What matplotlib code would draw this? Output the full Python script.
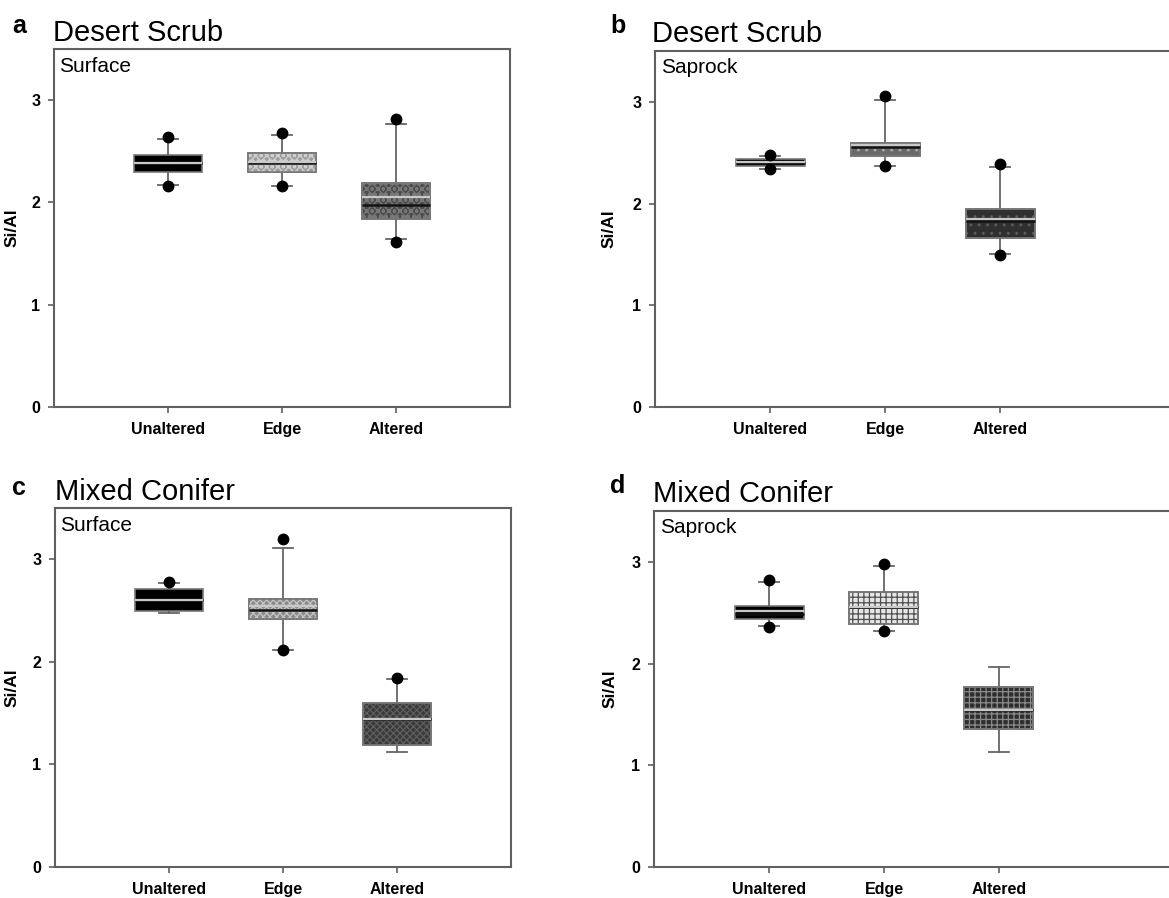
import matplotlib
matplotlib.use("Agg")
import matplotlib.pyplot as plt

plt.rcParams['font.family'] = ['Liberation Sans', 'DejaVu Sans']
plt.rcParams['hatch.linewidth'] = 0.9

W, H = 1169, 898

categories = ["Unaltered", "Edge", "Altered"]

# Panel a: Desert Scrub, Surface
a_q1 = [2.30, 2.30, 1.84]
a_q3 = [2.46, 2.48, 2.19]
a_med = [2.39, 2.39, 1.97]
a_mean = [2.39, 2.40, 2.05]
a_wlo = [2.17, 2.16, 1.64]
a_whi = [2.62, 2.66, 2.77]
a_fliers = [[2.16, 2.64], [2.16, 2.68], [1.61, 2.82]]

# Panel b: Desert Scrub, Saprock
b_q1 = [2.37, 2.47, 1.66]
b_q3 = [2.44, 2.60, 1.95]
b_med = [2.40, 2.56, 1.83]
b_mean = [2.41, 2.58, 1.85]
b_wlo = [2.34, 2.37, 1.50]
b_whi = [2.47, 3.02, 2.36]
b_fliers = [[2.34, 2.48], [2.37, 3.06], [1.49, 2.39]]

# Panel c: Mixed Conifer, Surface
c_q1 = [2.50, 2.42, 1.19]
c_q3 = [2.71, 2.61, 1.60]
c_med = [2.60, 2.51, 1.44]
c_mean = [2.60, 2.54, 1.44]
c_wlo = [2.48, 2.12, 1.12]
c_whi = [2.77, 3.11, 1.83]
c_fliers = [[2.78], [2.12, 3.20], [1.84]]

# Panel d: Mixed Conifer, Saprock
d_q1 = [2.44, 2.39, 1.36]
d_q3 = [2.57, 2.70, 1.77]
d_med = [2.49, 2.56, 1.54]
d_mean = [2.52, 2.56, 1.54]
d_wlo = [2.37, 2.32, 1.13]
d_whi = [2.80, 2.96, 1.97]
d_fliers = [[2.36, 2.82], [2.32, 2.98], []]

panels = [
    dict(letter="a", title="Desert Scrub", sub="Surface",
         q1=a_q1, q3=a_q3, med=a_med, mean=a_mean, wlo=a_wlo, whi=a_whi, fl=a_fliers,
         box=(54, 49, 407), xmax=4.0, spacing=114, ylab=-34,
         fills=[("#000000", None, None), ("#9c9c9c", "xxxooo", "#cdcdcd"), ("#4c4c4c", "xxxooo", "#777777")],
         letter_xy=(12, 33), title_xy=(53, 41)),
    dict(letter="b", title="Desert Scrub", sub="Saprock",
         q1=b_q1, q3=b_q3, med=b_med, mean=b_mean, wlo=b_wlo, whi=b_whi, fl=b_fliers,
         box=(655, 51, 407), xmax=4.6, spacing=115, ylab=-38,
         fills=[("#000000", None, None), ("#6a6a6a", "..", "#a8a8a8"), ("#303030", "..", "#5c5c5c")],
         letter_xy=(610, 33), title_xy=(652, 42)),
    dict(letter="c", title="Mixed Conifer", sub="Surface",
         q1=c_q1, q3=c_q3, med=c_med, mean=c_mean, wlo=c_wlo, whi=c_whi, fl=c_fliers,
         box=(55, 508, 867), xmax=4.0, spacing=114, ylab=-35,
         fills=[("#000000", None, None), ("#8a8a8a", "xxxxx", "#c4c4c4"), ("#3a3a3a", "xxxxx", "#5e5e5e")],
         letter_xy=(12, 495), title_xy=(55, 500)),
    dict(letter="d", title="Mixed Conifer", sub="Saprock",
         q1=d_q1, q3=d_q3, med=d_med, mean=d_mean, wlo=d_wlo, whi=d_whi, fl=d_fliers,
         box=(654, 511, 867), xmax=4.6, spacing=115, ylab=-36,
         fills=[("#000000", None, None), ("#e6e6e6", "+++", "#505050"), ("#2e2e2e", "+++", "#8a8a8a")],
         letter_xy=(610, 493), title_xy=(653, 502)),
]

fig = plt.figure(figsize=(W / 100, H / 100), dpi=100)
spine_c = "#606060"

for p in panels:
    left, top, bottom = p["box"]
    width = p["xmax"] * p["spacing"]
    ax = fig.add_axes([left / W, 1 - bottom / H, width / W, (bottom - top) / H])
    pos = [1, 2, 3]
    stats = []
    for i in range(3):
        stats.append(dict(med=p["med"][i], q1=p["q1"][i], q3=p["q3"][i],
                          whislo=p["wlo"][i], whishi=p["whi"][i],
                          fliers=p["fl"][i], mean=p["mean"][i]))
    bp = ax.bxp(stats, positions=pos, widths=0.6, patch_artist=True,
                showmeans=True, meanline=True, showfliers=True,
                boxprops=dict(edgecolor="#777777", linewidth=1.2),
                whiskerprops=dict(color="#666666", linewidth=1.3),
                capprops=dict(color="#666666", linewidth=1.3),
                medianprops=dict(color="#111111", linewidth=1.8),
                meanprops=dict(color="#c8c8c8", linewidth=1.6, linestyle="-"),
                flierprops=dict(marker="o", markerfacecolor="black",
                                markeredgecolor="black", markersize=7.5),
                capwidths=0.17, zorder=2)
    for i, patch in enumerate(bp["boxes"]):
        fc, hatch, hc = p["fills"][i]
        patch.set_facecolor(fc)
        if hatch:
            ax.bar(pos[i], p["q3"][i] - p["q1"][i], bottom=p["q1"][i], width=0.6,
                   color="none", edgecolor=hc, hatch=hatch, linewidth=0, zorder=2.1)
            ax.bar(pos[i], p["q3"][i] - p["q1"][i], bottom=p["q1"][i], width=0.6,
                   fill=False, edgecolor="#777777", linewidth=1.2, zorder=2.2)
    for ln in bp["medians"] + bp["means"]:
        ln.set_zorder(3)
    for ln in bp["fliers"]:
        ln.set_zorder(4)

    ax.set_xlim(0, p["xmax"])
    ax.set_ylim(0, 3.5)
    ax.set_yticks([0, 1, 2, 3])
    ax.set_yticklabels(["0", "1", "2", "3"], fontsize=11.5, fontweight="bold")
    ax.set_xticks(pos)
    ax.set_xticklabels(categories, fontsize=11.5, fontweight="bold")
    ax.tick_params(axis="both", direction="out", length=4, width=1.2, color=spine_c)
    ax.tick_params(axis="y", pad=6)
    ax.tick_params(axis="x", pad=7)
    for s in ax.spines.values():
        s.set_color(spine_c)
        s.set_linewidth(1.5)
    ax.set_ylabel("Si/Al", fontsize=12.5, fontweight="bold")
    ax.yaxis.set_label_coords(p["ylab"] / width, 0.5)
    ax.text(0.012, 0.937, p["sub"], transform=ax.transAxes, ha="left", va="baseline",
            fontsize=15)

    lx, ly = p["letter_xy"]
    fig.text(lx / W, 1 - ly / H, p["letter"], fontsize=18, fontweight="bold",
             ha="left", va="baseline")
    tx, ty = p["title_xy"]
    fig.text(tx / W, 1 - ty / H, p["title"], fontsize=21, ha="left", va="baseline")

fig.savefig("out.png", dpi=100)
